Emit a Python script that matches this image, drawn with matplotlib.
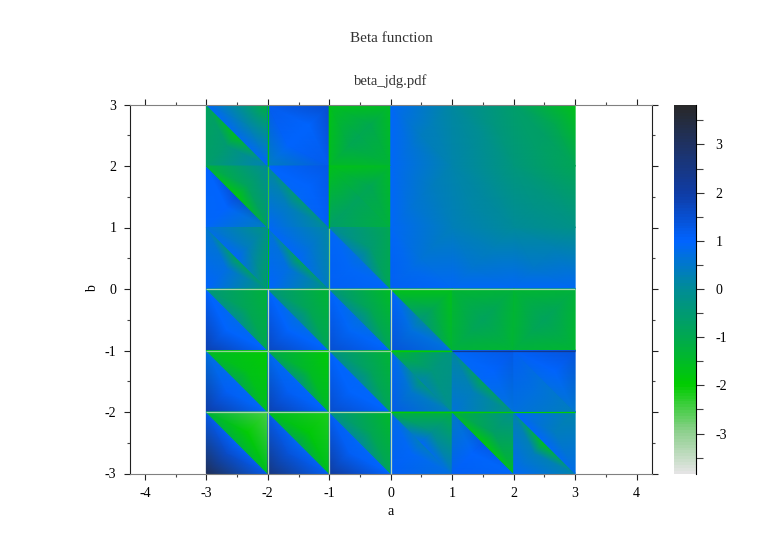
import numpy as np
import matplotlib
matplotlib.use("Agg")
import matplotlib.pyplot as plt
from matplotlib.colors import LinearSegmentedColormap, Normalize
from matplotlib.ticker import MultipleLocator

plt.rcParams['font.family'] = ['Liberation Serif', 'DejaVu Serif']
plt.rcParams['axes.unicode_minus'] = False

# colour scale
scale_vals = [-3.83, -3, -2, -1, 0, 1, 2, 3, 3.83]
scale_cols = ['#e4e4e4', '#8fd08f', '#00cc00', '#00a850', '#008c96', '#0064ff', '#0f3ca5', '#1e3264', '#282828']

cell_a = [-3, -2, -1, 0, 1, 2]
cell_b = [2, 1, 0, -1, -2, -3]

# values read per triangle, rows go from b=2 down to b=-3
# each entry: right angle corner, upper left end, lower right end, diagonal middle, centre
lower_vals = [
    [[-0.6, -0.8, 0.3, -1.7, -0.5], [0.3, 1.2, 1.2, 1.0, 1.0], [-1.5, -1.7, -1.4, -0.9, -1.0],
     [0.9, 0.9, 0.2, 0.4, 0.6], [0.2, 0.1, -0.4, -0.1, 0.0], [-0.4, -0.6, -0.9, -0.7, -0.6]],
    [[0.9, 1.0, 0.3, 1.5, 1.0], [0.9, 0.0, -0.1, -0.6, 0.4], [-0.6, -1.7, -1.2, -0.8, -0.8],
     [0.9, 0.9, 0.3, 0.5, 0.6], [0.3, 0.2, 0.0, 0.1, 0.15], [0.0, -0.4, -0.2, -0.3, -0.2]],
    [[1.0, 0.5, -0.5, -1.0, 0.7], [1.0, 0.6, -0.3, -1.0, 0.7], [1.1, 0.9, 0.9, 0.7, 0.9],
     [1.1, 0.9, 0.9, 0.6, 0.8], [0.9, 0.3, 0.9, 0.45, 0.55], [0.9, 0.0, 0.9, 0.4, 0.5]],
    [[1.9, 1.0, 1.0, 0.8, 1.0], [1.7, 1.0, 1.0, 0.7, 1.0], [1.5, 1.0, 1.0, 0.7, 0.9],
     [1.4, 1.0, 0.7, 0.1, 0.7], [-1.3, -1.4, -1.4, -0.8, -0.9], [-1.3, -1.4, -1.4, -0.8, -0.9]],
    [[2.0, 0.7, 0.9, 0.9, 1.1], [1.9, 0.8, 1.0, 0.9, 1.1], [1.6, 1.0, 1.0, 0.9, 1.0],
     [1.2, 0.9, 0.3, -0.5, 0.5], [0.6, 0.1, -0.4, -1.0, 0.3], [0.7, 1.1, 0.3, 0.6, 0.7]],
    [[3.2, 1.2, 1.2, 1.0, 1.6], [2.6, 1.2, 1.1, 0.9, 1.4], [2.1, 1.1, 1.0, 0.9, 1.1],
     [1.1, 0.8, 0.7, 0.3, 0.9], [1.1, 0.4, 0.9, 1.3, 1.0], [0.9, 0.2, 0.2, -1.8, 0.3]],
]
upper_vals = [
    [[-1.3, 0.9, 0.9, 0.8, 0.2], [1.6, 1.2, 1.2, 1.0, 1.0], [-1.6, -1.7, -1.4, -1.0, -1.0],
     [0.1, 0.9, 0.2, 0.4, 0.3], [-0.6, 0.1, -0.4, -0.1, -0.3], [-1.7, -0.6, -0.9, -0.7, -1.0]],
    [[0.0, -1.2, -0.7, -1.8, -0.8], [1.3, 1.0, 1.1, 0.9, 1.0], [-1.5, -1.7, -1.3, -0.9, -0.9],
     [0.2, 0.9, 0.3, 0.5, 0.4], [-0.4, 0.2, 0.0, 0.1, -0.05], [-0.9, -0.4, -0.2, -0.3, -0.5]],
    [[-0.3, 0.7, -0.8, 0.9, 0.4], [0.1, 0.9, 0.3, 0.9, 0.6], [-1.0, 0.0, -1.0, 0.3, -0.5],
     [0.3, 0.9, 0.9, 0.6, 0.5], [0.0, 0.3, 0.9, 0.45, 0.35], [-0.2, 0.0, 0.9, 0.4, 0.25]],
    [[-1.3, -0.4, -1.0, -0.1, -0.9], [-1.4, -0.3, -0.9, 0.0, -0.9], [-1.6, -0.3, -0.9, 0.0, -0.9],
     [-1.7, -1.7, -1.4, -0.4, -0.9], [-1.3, -1.4, -1.4, -0.8, -0.9], [-1.3, -1.4, -1.4, -0.8, -0.9]],
    [[-2.0, -1.5, -1.6, -1.0, -1.7], [-2.0, -1.0, -1.5, -0.4, -1.5], [-1.4, -0.2, -0.9, 0.0, -0.8],
     [-0.3, -1.4, -0.1, 0.2, -0.4], [1.3, 0.9, 0.6, 0.9, 1.0], [1.4, 1.1, 0.5, 0.8, 1.0]],
    [[-2.5, -1.2, -1.6, -1.3, -2.0], [-2.2, -1.5, -1.6, -1.0, -1.9], [-1.5, -0.2, -0.9, 0.0, -0.9],
     [-1.2, -1.2, 0.5, 0.9, -0.1], [-0.1, -1.3, -1.5, -1.8, -0.7], [0.2, 1.0, 0.8, 0.9, 0.4]],
]

# thin lines along the poles: position, start, end, value
vline_a = [-2, -2, -2, -2, -1, -1, -1, 0]
vline_lo = [-3, 0, 1, 2, -3, 0, 1, -3]
vline_hi = [0, 1, 2, 3, 0, 1, 3, 0]
vline_val = [-3.4, -1.8, -2.3, -1.8, -3.4, -2.8, -1.9, -3.4]

hline_b = [0, -1, -1, -1, -2, -2]
hline_lo = [-3, -3, 0, 1, -3, 0]
hline_hi = [3, 0, 1, 3, 0, 3]
hline_val = [-3.2, -3.0, -2.0, 2.3, -3.2, -2.0]

title_text = "Beta function"
subtitle_text = "beta_jdg.pdf"


def add_triangle(xs, ys, zs, tris, pts, vals):
    # pts/vals: right corner, upper left end, lower right end, diagonal middle, centre
    start = len(xs)
    xs.extend(p[0] for p in pts)
    ys.extend(p[1] for p in pts)
    zs.extend(vals)
    r, p, q, m, c = range(start, start + 5)
    tris.extend([(r, p, c), (r, q, c), (p, m, c), (q, m, c)])


def build_mesh():
    xs, ys, zs, tris = [], [], [], []
    for row, b in enumerate(cell_b):
        for col, a in enumerate(cell_a):
            ul = (a, b + 1)
            lr = (a + 1, b)
            mid = (a + 0.5, b + 0.5)
            low = [(a, b), ul, lr, mid, (a + 1 / 3, b + 1 / 3)]
            upp = [(a + 1, b + 1), ul, lr, mid, (a + 2 / 3, b + 2 / 3)]
            add_triangle(xs, ys, zs, tris, low, lower_vals[row][col])
            add_triangle(xs, ys, zs, tris, upp, upper_vals[row][col])
    return np.array(xs), np.array(ys), np.array(zs), np.array(tris)


def main():
    stops = [((v - scale_vals[0]) / (scale_vals[-1] - scale_vals[0]), c) for v, c in zip(scale_vals, scale_cols)]
    cmap = LinearSegmentedColormap.from_list("beta", stops, N=128)
    norm = Normalize(scale_vals[0], scale_vals[-1])

    W, H = 782, 553
    fig = plt.figure(figsize=(W / 100, H / 100), dpi=100)
    ax = fig.add_axes([129.5 / W, 1 - 473.5 / H, 522.5 / W, 369 / H])
    cax = fig.add_axes([674 / W, 1 - 473.5 / H, 22 / W, 369 / H])

    xs, ys, zs, tris = build_mesh()
    mesh = ax.tripcolor(xs, ys, tris, zs, shading='gouraud', cmap=cmap, norm=norm)

    for a, lo, hi, v in zip(vline_a, vline_lo, vline_hi, vline_val):
        ax.plot([a, a], [lo, hi], color=cmap(norm(v)), lw=0.9, solid_capstyle='butt')
    for b, lo, hi, v in zip(hline_b, hline_lo, hline_hi, hline_val):
        ax.plot([lo, hi], [b, b], color=cmap(norm(v)), lw=0.9, solid_capstyle='butt')

    ax.set_xlim(-4.25, 4.25)
    ax.set_ylim(-3, 3)
    ax.xaxis.set_major_locator(MultipleLocator(1))
    ax.xaxis.set_minor_locator(MultipleLocator(0.5))
    ax.yaxis.set_major_locator(MultipleLocator(1))
    ax.yaxis.set_minor_locator(MultipleLocator(0.5))
    ax.tick_params(which='major', length=4.5, width=0.8, color='#222222', labelsize=10,
                   top=True, right=True, direction='out', pad=5)
    ax.tick_params(which='minor', length=2.5, width=0.8, color='#444444',
                   top=True, right=True, direction='out')
    ax.set_xlabel("a", fontsize=10, labelpad=4)
    ax.set_ylabel("b", fontsize=10, labelpad=4)
    for side in ['top', 'bottom']:
        ax.spines[side].set_color('#808080')
    for side in ['left', 'right']:
        ax.spines[side].set_color('#202020')
    for s in ax.spines.values():
        s.set_linewidth(0.8)

    cb = fig.colorbar(mesh, cax=cax)
    cb.outline.set_visible(False)
    cax.spines['right'].set_visible(True)
    cb.set_ticks([-3, -2, -1, 0, 1, 2, 3])
    cb.ax.yaxis.set_minor_locator(MultipleLocator(0.5))
    cax.tick_params(which='major', length=6, width=0.8, color='#333333', labelsize=10, pad=8)
    cax.tick_params(which='minor', length=5, width=0.8, color='#444444')

    fig.text(391 / W, 1 - 38.5 / H, title_text, ha='center', va='center', fontsize=11, color='#333333')
    fig.text(391 / W, 1 - 81.5 / H, subtitle_text, ha='center', va='center', fontsize=10.5, color='#333333')

    fig.savefig("out.png", dpi=100)


if __name__ == '__main__':
    main()
